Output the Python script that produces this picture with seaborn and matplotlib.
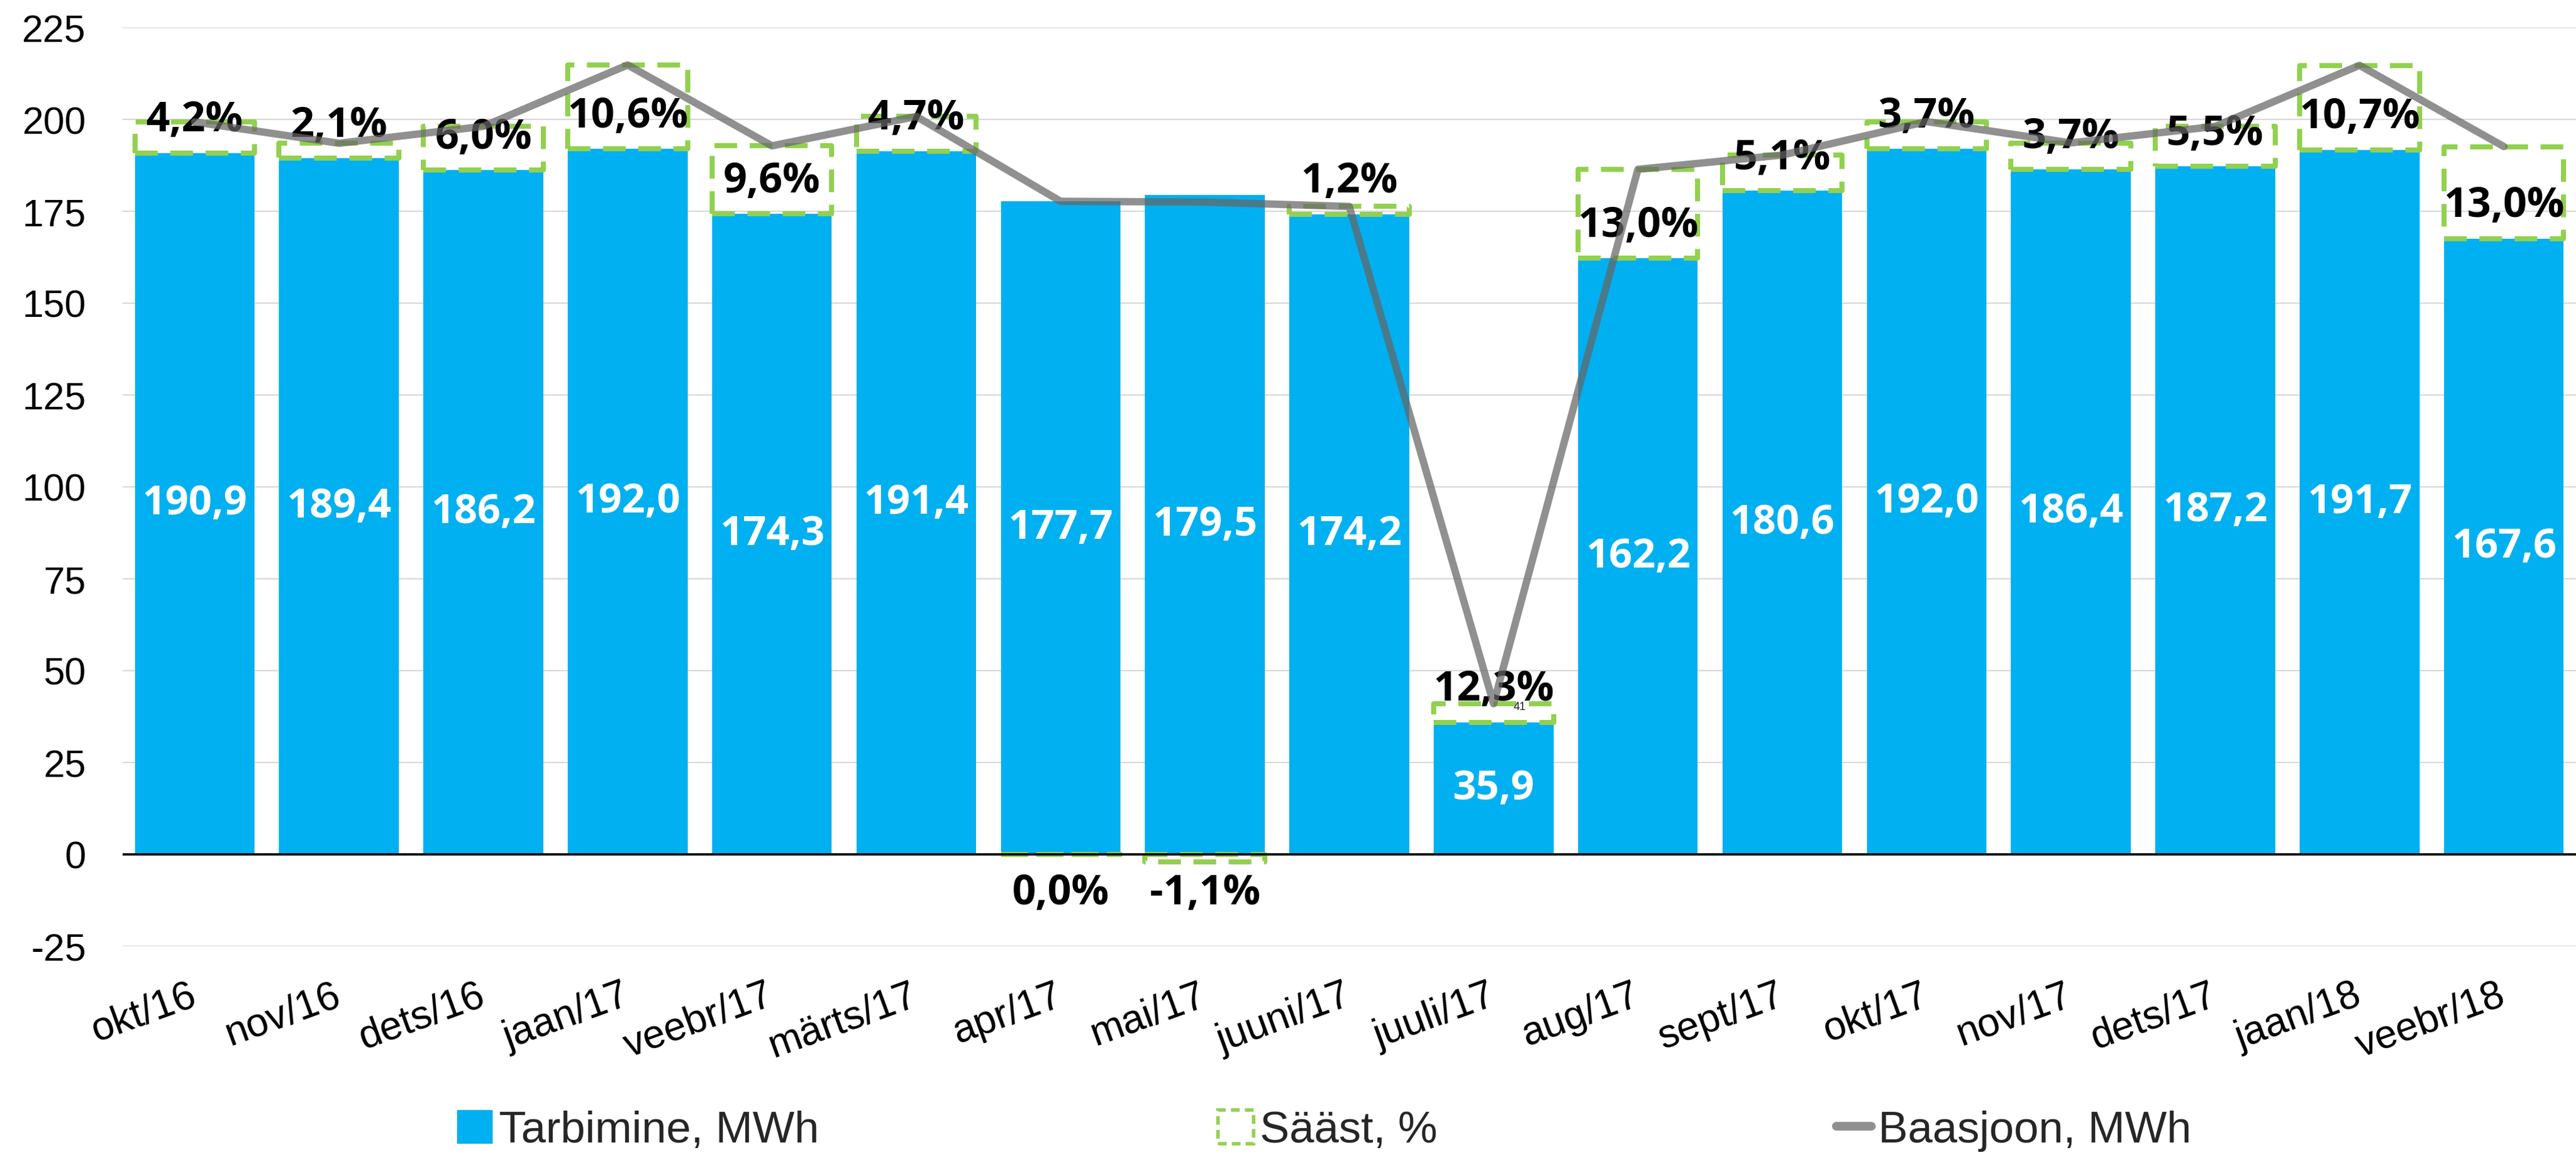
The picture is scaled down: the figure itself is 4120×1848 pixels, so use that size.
import numpy as np
import pandas as pd
import matplotlib
matplotlib.use("Agg")
import matplotlib.pyplot as plt
from matplotlib.patches import Patch, Rectangle
from matplotlib.lines import Line2D
import seaborn as sns

# ---- data ----
months = ["okt/16", "nov/16", "dets/16", "jaan/17", "veebr/17", "märts/17", "apr/17",
          "mai/17", "juuni/17", "juuli/17", "aug/17", "sept/17", "okt/17", "nov/17",
          "dets/17", "jaan/18", "veebr/18"]
consumption = [190.9, 189.4, 186.2, 192.0, 174.3, 191.4, 177.7, 179.5, 174.2, 35.9,
               162.2, 180.6, 192.0, 186.4, 187.2, 191.7, 167.6]
baseline = [199.3, 193.5, 198.1, 214.8, 192.8, 200.8, 177.7, 177.5, 176.3, 41.0,
            186.4, 190.3, 199.4, 193.6, 198.1, 214.7, 192.6]
saving_pct = [4.2, 2.1, 6.0, 10.6, 9.6, 4.7, 0.0, -1.1, 1.2, 12.3, 13.0, 5.1, 3.7,
              3.7, 5.5, 10.7, 13.0]
y_ticks = [-25, 0, 25, 50, 75, 100, 125, 150, 175, 200, 225]

BLUE = "#00B0F0"
GREEN = "#92D050"
GRAY = "#666666"

sns.set_style("white")
plt.rcParams["font.family"] = ["Liberation Sans", "DejaVu Sans"]

W, H = 4120, 1849
fig = plt.figure(figsize=(W / 100, H / 100), dpi=100)
ax = fig.add_axes([196 / W, 1 - 1515 / H, (W - 196) / W, (1515 - 45) / H])

df = pd.DataFrame({"month": months, "value": consumption})
sns.barplot(data=df, x="month", y="value", color=BLUE, saturation=1, width=0.83,
            ax=ax, zorder=2, edgecolor="none")

x = np.arange(len(months))
bw = 0.83
savings = [b - c for b, c in zip(baseline, consumption)]
for xi, c, s in zip(x, consumption, savings):
    if s > 0.05:
        bottom, h = c, s
    else:
        bottom, h = 0, s if abs(s) > 0.05 else 0
    ax.add_patch(Rectangle((xi - bw / 2, bottom), bw, h, facecolor="none",
                           edgecolor=GREEN, lw=5.8, linestyle=(0, (4.5, 2.5)),
                           zorder=3, joinstyle="round", capstyle="butt"))

sns.lineplot(x=x, y=baseline, ax=ax, color=GRAY, alpha=0.72, lw=8.5, sort=False,
             zorder=5, solid_capstyle="round", solid_joinstyle="round")

# value labels inside bars
for xi, c in zip(x, consumption):
    ax.text(xi, c / 2, f"{c:.1f}".replace(".", ","), ha="center", va="center",
            color="white", fontsize=47, fontweight="bold",
            family=["Open Sans", "DejaVu Sans"], zorder=4)

# percent labels
for xi, c, p in zip(x, consumption, saving_pct):
    y = c + 9 if p > 0 else -10.5
    ax.text(xi, y, f"{p:.1f}%".replace(".", ","), ha="center", va="center",
            color="black", fontsize=48, fontweight="bold",
            family=["Open Sans", "DejaVu Sans"], zorder=4)

# small baseline label at the dip
imin = int(np.argmin(baseline))
ax.annotate(f"{baseline[imin]:.0f}", (x[imin], baseline[imin]), xytext=(30, -3),
            textcoords="offset points", ha="center", va="center", fontsize=13,
            color="#222222", zorder=6)

ax.axhline(0, color="black", lw=2.6, zorder=4)
ax.set_ylim(-25, 225)
ax.set_xlim(-0.5, len(months) - 0.5)
ax.set_yticks(y_ticks)
ax.set_yticklabels([str(t) for t in y_ticks])
ax.yaxis.grid(True, color="#D9D9D9", lw=1.6, zorder=0)
ax.set_axisbelow(True)
for sp in ax.spines.values():
    sp.set_visible(False)
ax.set_xlabel("")
ax.set_ylabel("")
ax.tick_params(axis="y", length=0, pad=42, labelsize=44, labelcolor="black")
ax.tick_params(axis="x", length=0, pad=55, labelsize=46, labelcolor="black")
ax.set_xticks(x)
ax.set_xticklabels(months, rotation=20, ha="right", va="center",
                   rotation_mode="anchor")

handles = [
    Patch(facecolor=BLUE, edgecolor="none", label="Tarbimine, MWh"),
    Patch(facecolor="none", edgecolor=GREEN, lw=4, linestyle=(0, (2.5, 1.5)),
          label="Sääst, %"),
    Line2D([0], [0], color=GRAY, alpha=0.72, lw=10, solid_capstyle="round",
           label="Baasjoon, MWh"),
]
fig.legend(handles=handles, loc="center", bbox_to_anchor=(2118 / W, 1 - 1810 / H),
           ncol=3, frameon=False, fontsize=51, handlelength=0.8, handleheight=0.8,
           handletextpad=0.15, columnspacing=9)

fig.savefig("out.png", dpi=100)
